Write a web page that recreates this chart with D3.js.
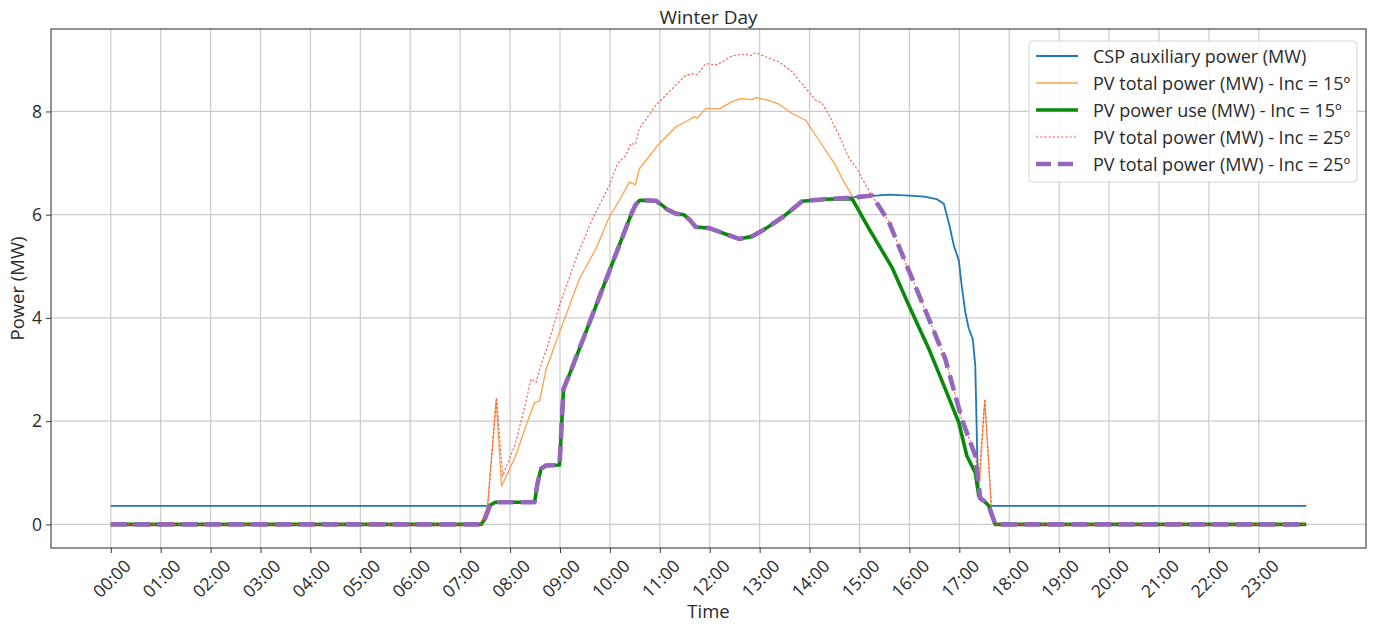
<!DOCTYPE html>
<html>
<head>
<meta charset="utf-8">
<script src="https://cdn.jsdelivr.net/npm/d3@7/dist/d3.min.js"></script>
<style>
  body { margin: 0; background: #ffffff; }
  svg text { font-family: "Open Sans", "DejaVu Sans", sans-serif; fill: #2a2a2a; }
</style>
</head>
<body>
<svg id="chart" width="1373" height="628"></svg>
<script>
// ---- tick values and labels ----
const hourTicks = [0, 1, 2, 3, 4, 5, 6, 7, 8, 9, 10, 11, 12, 13, 14, 15, 16, 17, 18, 19, 20, 21, 22, 23];
const hourLabels = ["00:00", "01:00", "02:00", "03:00", "04:00", "05:00", "06:00", "07:00",
                    "08:00", "09:00", "10:00", "11:00", "12:00", "13:00", "14:00", "15:00",
                    "16:00", "17:00", "18:00", "19:00", "20:00", "21:00", "22:00", "23:00"];
const powerTicks = [0, 2, 4, 6, 8];

const chartTitle = "Winter Day";
const xLabel = "Time";
const yLabel = "Power (MW)";

// ---- series (hour of day, MW) ----
// PV power use (MW) - Inc = 15º
const useHours15 = [0, 7.42, 7.5, 7.6, 7.7, 8.49, 8.55, 8.62, 8.72, 8.99, 9.07, 9.22, 10.42, 10.47, 10.52, 10.6,
                    10.92, 11.05, 11.15, 11.32, 11.48, 11.6, 11.72, 11.99, 12.3, 12.59, 12.85, 13.12, 13.5, 13.85,
                    14.3, 14.85, 15.19, 15.65, 15.99, 16.39, 16.72, 16.99, 17.15, 17.32, 17.39, 17.5, 17.59, 17.72, 23.95];
const usePower15 = [0, 0, 0.12, 0.37, 0.43, 0.43, 0.8, 1.08, 1.14, 1.15, 2.62, 2.98, 5.99, 6.1, 6.2, 6.28,
                    6.27, 6.18, 6.1, 6.02, 6.0, 5.9, 5.76, 5.74, 5.63, 5.53, 5.58, 5.73, 5.98, 6.26,
                    6.3, 6.31, 5.73, 4.98, 4.24, 3.40, 2.62, 1.97, 1.33, 1.0, 0.55, 0.45, 0.36, 0, 0];

// PV total power (MW) - Inc = 25º, shown as the purple dashed line
const useHours25 = [0, 7.42, 7.5, 7.6, 7.7, 8.49, 8.55, 8.62, 8.72, 8.99, 9.07, 9.22, 10.42, 10.47, 10.52, 10.6,
                    10.92, 11.05, 11.15, 11.32, 11.48, 11.6, 11.72, 11.99, 12.3, 12.59, 12.85, 13.12, 13.5, 13.85,
                    14.3, 14.85, 15.25, 15.4, 15.59, 15.92, 16.39, 16.72, 17.05, 17.32, 17.39, 17.42, 17.5, 17.59, 17.72, 23.95];
const usePower25 = [0, 0, 0.12, 0.37, 0.43, 0.43, 0.8, 1.08, 1.14, 1.15, 2.62, 2.98, 5.99, 6.1, 6.2, 6.28,
                    6.27, 6.18, 6.1, 6.02, 6.0, 5.9, 5.76, 5.74, 5.63, 5.53, 5.58, 5.73, 5.98, 6.26,
                    6.3, 6.33, 6.37, 6.15, 5.86, 5.08, 3.98, 3.20, 2.04, 1.33, 0.74, 0.5, 0.45, 0.36, 0, 0];

// PV total power (MW) - Inc = 15º
const totalHours15 = [0, 7.42, 7.55, 7.72, 7.83, 8.1, 8.35, 8.49, 8.59, 8.72, 8.85, 8.99, 9.39, 9.72, 9.99, 10.19,
                      10.39, 10.51, 10.59, 10.99, 11.32, 11.52, 11.69, 11.75, 11.92, 12.19, 12.45, 12.62, 12.85,
                      12.92, 13.19, 13.39, 13.65, 13.92, 14.25, 14.52, 14.65, 14.85, 15.19, 15.65, 15.99, 16.39,
                      16.72, 16.99, 17.15, 17.32, 17.39, 17.51, 17.65, 17.72, 23.95];
const totalPower15 = [0, 0, 0.36, 2.42, 0.74, 1.3, 2.0, 2.36, 2.39, 3.0, 3.35, 3.72, 4.76, 5.34, 5.96, 6.28,
                      6.63, 6.58, 6.89, 7.38, 7.70, 7.80, 7.90, 7.87, 8.06, 8.05, 8.19, 8.25, 8.23,
                      8.27, 8.21, 8.14, 7.96, 7.83, 7.35, 6.96, 6.70, 6.37, 5.73, 4.98, 4.24, 3.40,
                      2.62, 1.97, 1.33, 1.0, 0.55, 2.40, 0.2, 0, 0];

// PV total power (MW) - Inc = 25º, shown as the red dotted line
const totalHours25 = [0, 7.42, 7.55, 7.73, 7.85, 8.1, 8.3, 8.42, 8.47, 8.52, 8.59, 8.75, 8.99, 9.32, 9.65, 9.99,
                      10.15, 10.32, 10.42, 10.51, 10.59, 10.92, 11.32, 11.52, 11.65, 11.75, 11.92, 12.12, 12.25,
                      12.45, 12.72, 12.82, 12.92, 13.19, 13.39, 13.65, 13.92, 14.12, 14.25, 14.39, 14.65, 14.79,
                      14.95, 15.05, 15.25, 15.4, 15.59, 15.92, 16.39, 16.72, 17.05, 17.32, 17.39, 17.51, 17.65, 17.72, 23.95];
const totalPower25 = [0, 0, 0.36, 2.46, 0.94, 1.55, 2.3, 2.82, 2.78, 2.75, 3.01, 3.45, 4.24, 5.15, 5.92, 6.57,
                      6.99, 7.15, 7.38, 7.36, 7.67, 8.12, 8.51, 8.70, 8.73, 8.71, 8.93, 8.90, 8.96,
                      9.08, 9.11, 9.08, 9.14, 9.03, 8.96, 8.77, 8.45, 8.22, 8.16, 7.93, 7.41, 7.09,
                      6.89, 6.70, 6.37, 6.15, 5.86, 5.08, 3.98, 3.20, 2.04, 1.33, 0.87, 2.43, 0.23, 0, 0];

// CSP auxiliary power (MW)
const cspHours = [0, 7.55, 7.6, 7.7, 8.49, 8.55, 8.62, 8.72, 8.99, 9.07, 9.22, 10.42, 10.47, 10.52, 10.6,
                  10.92, 11.05, 11.15, 11.32, 11.48, 11.6, 11.72, 11.99, 12.3, 12.59, 12.85, 13.12, 13.5, 13.85,
                  14.3, 14.85, 15.2, 15.6, 16.0, 16.3, 16.55, 16.69, 16.8, 16.89, 16.99, 17.05, 17.12, 17.19,
                  17.27, 17.32, 17.37, 17.39, 17.5, 17.59, 17.65, 23.95];
const cspPower = [0.36, 0.36, 0.37, 0.43, 0.43, 0.8, 1.08, 1.14, 1.15, 2.62, 2.98, 5.99, 6.1, 6.2, 6.28,
                  6.27, 6.18, 6.1, 6.02, 6.0, 5.9, 5.76, 5.74, 5.63, 5.53, 5.58, 5.73, 5.98, 6.26,
                  6.3, 6.34, 6.36, 6.39, 6.37, 6.35, 6.30, 6.21, 5.8, 5.40, 5.11, 4.6, 4.11, 3.79,
                  3.59, 3.07, 0.87, 0.55, 0.45, 0.36, 0.36, 0.36];

const legendLabels = ["CSP auxiliary power (MW)", "PV total power (MW) - Inc = 15º",
                      "PV power use (MW) - Inc = 15º", "PV total power (MW) - Inc = 25º",
                      "PV total power (MW) - Inc = 25º"];

// ---- series styles (drawn in this order) ----
const series = [
  { hours: cspHours,     values: cspPower,     color: "#1f77b4", width: 1.8, dash: null,    legendDash: null },
  { hours: totalHours15, values: totalPower15, color: "#ffa04a", width: 1.3, dash: null,    legendDash: null },
  { hours: useHours15,   values: usePower15,   color: "#0a8a0a", width: 3.6, dash: null,    legendDash: null },
  { hours: totalHours25, values: totalPower25, color: "#f25a4f", width: 1.1, dash: "2.2,2", legendDash: "2.2,2" },
  { hours: useHours25,   values: usePower25,   color: "#9467bd", width: 4.6, dash: "16,7.5", legendDash: "15,7" }
];

// ---- layout ----
const svg = d3.select("#chart");
const plot = { left: 51, right: 1366, top: 29, bottom: 548 };
const tickFont = 17.5;

const allHours = series.flatMap(s => s.hours);
const allValues = series.flatMap(s => s.values);
const [hMin, hMax] = d3.extent(allHours);
const [vMin, vMax] = d3.extent(allValues);
const hPad = (hMax - hMin) * 0.05, vPad = (vMax - vMin) * 0.05;

const x = d3.scaleLinear().domain([hMin - hPad, hMax + hPad]).range([plot.left, plot.right]);
const y = d3.scaleLinear().domain([vMin - vPad, vMax + vPad]).range([plot.bottom, plot.top]);

// grid
const grid = svg.append("g").attr("class", "grid");
grid.selectAll("line.vg").data(hourTicks).join("line")
  .attr("x1", d => x(d)).attr("x2", d => x(d))
  .attr("y1", plot.top).attr("y2", plot.bottom)
  .attr("stroke", "#cbcbcb").attr("stroke-width", 1.2);
grid.selectAll("line.hg").data(powerTicks).join("line")
  .attr("x1", plot.left).attr("x2", plot.right)
  .attr("y1", d => y(d)).attr("y2", d => y(d))
  .attr("stroke", "#cbcbcb").attr("stroke-width", 1.2);

// lines
svg.append("clipPath").attr("id", "plotClip").append("rect")
  .attr("x", plot.left).attr("y", plot.top)
  .attr("width", plot.right - plot.left).attr("height", plot.bottom - plot.top);

const lineGen = d3.line().x(d => x(d[0])).y(d => y(d[1]));
const linesG = svg.append("g").attr("clip-path", "url(#plotClip)");
series.forEach(s => {
  linesG.append("path")
    .datum(d3.zip(s.hours, s.values))
    .attr("d", lineGen)
    .attr("fill", "none")
    .attr("stroke", s.color)
    .attr("stroke-width", s.width)
    .attr("stroke-linejoin", "round")
    .attr("stroke-dasharray", s.dash);
});

// frame
svg.append("rect")
  .attr("x", plot.left).attr("y", plot.top)
  .attr("width", plot.right - plot.left).attr("height", plot.bottom - plot.top)
  .attr("fill", "none").attr("stroke", "#3a3a3a").attr("stroke-width", 1.1);

// x axis
const xAxis = d3.axisBottom(x).tickValues(hourTicks)
  .tickFormat((d, i) => hourLabels[i]).tickSizeOuter(0).tickSize(5).tickPadding(4);
const gx = svg.append("g").attr("transform", `translate(0,${plot.bottom})`).call(xAxis);
gx.select(".domain").remove();
gx.selectAll(".tick line").attr("stroke", "#3a3a3a");
gx.selectAll(".tick text")
  .attr("font-size", tickFont)
  .attr("text-anchor", "middle")
  .attr("dominant-baseline", "central")
  .attr("y", 0).attr("dy", 0)
  .each(function () {
    const L = this.getComputedTextLength();
    const side = (L + 0.7 * tickFont) * Math.SQRT1_2;
    d3.select(this).attr("transform", `translate(0,${10 + side / 2}) rotate(-45)`);
  });

// y axis
const yAxis = d3.axisLeft(y).tickValues(powerTicks).tickSizeOuter(0).tickSize(5).tickPadding(4);
const gy = svg.append("g").attr("transform", `translate(${plot.left},0)`).call(yAxis);
gy.select(".domain").remove();
gy.selectAll(".tick line").attr("stroke", "#3a3a3a");
gy.selectAll(".tick text").attr("font-size", tickFont);

// titles
svg.append("text").attr("x", (plot.left + plot.right) / 2).attr("y", 24)
  .attr("text-anchor", "middle").attr("font-size", 19).text(chartTitle);
svg.append("text").attr("x", (plot.left + plot.right) / 2).attr("y", 618)
  .attr("text-anchor", "middle").attr("font-size", 18.5).text(xLabel);
svg.append("text")
  .attr("transform", `translate(24,${(plot.top + plot.bottom) / 2}) rotate(-90)`)
  .attr("text-anchor", "middle").attr("font-size", 18.5).text(yLabel);

// legend
const lg = svg.append("g").attr("transform", "translate(1029,41)");
lg.append("rect").attr("width", 328).attr("height", 141).attr("rx", 4)
  .attr("fill", "#ffffff").attr("fill-opacity", 0.85)
  .attr("stroke", "#d4d4d4").attr("stroke-width", 1);
legendLabels.forEach((label, i) => {
  const s = series[i];
  const rowY = 15 + i * 27;
  lg.append("line").attr("x1", 7).attr("x2", 49).attr("y1", rowY).attr("y2", rowY)
    .attr("stroke", s.color).attr("stroke-width", s.width)
    .attr("stroke-dasharray", s.legendDash);
  lg.append("text").attr("x", 64).attr("y", rowY).attr("dominant-baseline", "central")
    .attr("font-size", 18).text(label);
});
</script>
</body>
</html>
